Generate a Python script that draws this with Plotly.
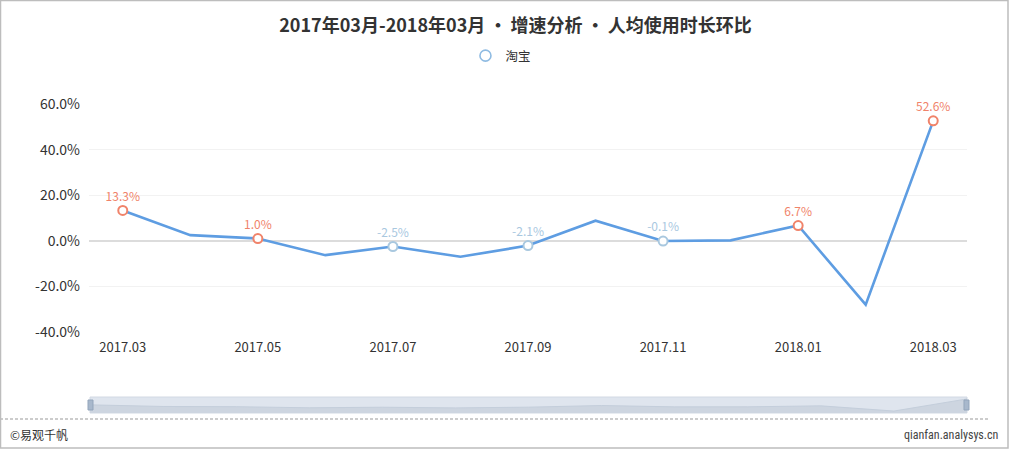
import plotly.graph_objects as go

# ---- data ----
months = ["2017.03", "2017.04", "2017.05", "2017.06", "2017.07", "2017.08", "2017.09",
          "2017.10", "2017.11", "2017.12", "2018.01", "2018.02", "2018.03"]
values = [13.3, 2.5, 1.0, -6.3, -2.5, -7.0, -2.1, 8.8, -0.1, 0.2, 6.7, -28.0, 52.6]
series_name = "淘宝"
title_text = "2017年03月-2018年03月\u2009•\u2009增速分析\u2009•\u2009人均使用时长环比"
tick_months = ["2017.03", "2017.05", "2017.07", "2017.09", "2017.11", "2018.01", "2018.03"]
y_ticks = [-40, -20, 0, 20, 40, 60]

# ---- style ----
W, H = 1010, 450
ML, MR, MT, MB = 89, 43, 104, 37
PW, PH = W - ML - MR, H - MT - MB
LINE = "#5e9de2"
POS = "#f0836a"
NEG = "#a9c8df"
FONT = "Noto Sans CJK SC"

def px_x(px):
    return (px - ML) / PW

def px_y(py):
    return (H - MB - py) / PH

def clamp(v):
    return max(0.0, min(1.0, v))

main_bottom = px_y(332)
slider_top = px_y(397)

fig = go.Figure()

# main line
fig.add_trace(go.Scatter(
    x=months, y=values, mode="lines", line=dict(color=LINE, width=2.6),
    showlegend=False, hoverinfo="skip", xaxis="x", yaxis="y"))

# labelled markers on every other month
mk_x = months[::2]
mk_y = values[::2]
mk_c = [POS if v >= 0 else NEG for v in mk_y]
fig.add_trace(go.Scatter(
    x=mk_x, y=mk_y, mode="markers+text", cliponaxis=False,
    marker=dict(symbol="circle", size=9, color="white", line=dict(color=mk_c, width=2)),
    text=[f"{v:.1f}%" for v in mk_y], textposition="top center",
    textfont=dict(size=12, color=mk_c, family=FONT),
    showlegend=False, hoverinfo="skip", xaxis="x", yaxis="y"))

# legend entry
fig.add_trace(go.Scatter(
    x=[None], y=[None], mode="markers", name=series_name,
    marker=dict(symbol="circle-open", size=11, color="#8fbbe2", line=dict(width=1.6)),
    xaxis="x", yaxis="y"))

# slider data shadow
s_min = min(values) - 13
fig.add_trace(go.Scatter(
    x=months, y=[s_min] * len(months), mode="lines", line=dict(width=0),
    showlegend=False, hoverinfo="skip", xaxis="x2", yaxis="y2"))
fig.add_trace(go.Scatter(
    x=months, y=values, mode="lines", line=dict(color="#c4cedb", width=1),
    fill="tonexty", fillcolor="#cdd5e0",
    showlegend=False, hoverinfo="skip", xaxis="x2", yaxis="y2"))

fig.update_layout(
    width=W, height=H,
    margin=dict(l=ML, r=MR, t=MT, b=MB),
    paper_bgcolor="white", plot_bgcolor="rgba(0,0,0,0)",
    font=dict(family=FONT, color="#333"),
    title=dict(text=f"<b>{title_text}</b>", x=515.5 / W, xref="container", xanchor="center",
               y=1 - 26 / H, yref="container", yanchor="middle",
               font=dict(size=18, color="#333", family=FONT)),
    legend=dict(orientation="h", x=0.496, xref="container", xanchor="center",
                y=1 - 56 / H, yref="container", yanchor="middle",
                font=dict(size=12.5, color="#333", family=FONT),
                itemwidth=30, bgcolor="rgba(0,0,0,0)"),
    xaxis=dict(type="category", categoryorder="array", categoryarray=months,
               range=[-0.5, len(months) - 0.5], tickvals=tick_months, ticktext=tick_months,
               showgrid=False, zeroline=False, showline=False, ticks="",
               tickfont=dict(size=13, color="#333"), ticklabelstandoff=6,
               domain=[0, 1], anchor="y"),
    yaxis=dict(range=[-40, 60], tickvals=y_ticks, ticktext=[f"{v:.1f}%" for v in y_ticks],
               showgrid=True, gridcolor="#f2f2f2", gridwidth=1,
               zeroline=True, zerolinecolor="#dcdcdc", zerolinewidth=1.5,
               showline=False, ticks="", tickfont=dict(size=14, color="#333"),
               ticklabelstandoff=8, domain=[main_bottom, 1], anchor="x"),
    xaxis2=dict(type="category", categoryorder="array", categoryarray=months,
                range=[0, len(months) - 1], showticklabels=False, showgrid=False,
                zeroline=False, showline=False, ticks="",
                domain=[clamp(px_x(90)), clamp(px_x(967))], anchor="y2"),
    yaxis2=dict(range=[s_min, max(values) + 13], showticklabels=False, showgrid=False,
                zeroline=False, showline=False, ticks="", domain=[0, slider_top],
                anchor="x2"),
    shapes=[
        dict(type="rect", xref="paper", yref="paper", x0=px_x(90), x1=px_x(967),
             y0=0, y1=slider_top, fillcolor="#dfe5ee", line=dict(color="#d2d9e3", width=1),
             layer="below"),
        dict(type="rect", xref="paper", yref="paper", x0=px_x(88), x1=px_x(93),
             y0=px_y(410), y1=px_y(400), fillcolor="#a8b8cc", line=dict(color="#93a5bb", width=1)),
        dict(type="rect", xref="paper", yref="paper", x0=px_x(964), x1=px_x(969),
             y0=px_y(410), y1=px_y(400), fillcolor="#a8b8cc", line=dict(color="#93a5bb", width=1)),
        dict(type="line", xref="paper", yref="paper", x0=px_x(0), x1=px_x(990),
             y0=px_y(419), y1=px_y(419), line=dict(color="#999999", width=1, dash="3px,2px")),
        dict(type="rect", xref="paper", yref="paper", x0=px_x(0.5), x1=px_x(1008),
             y0=px_y(448), y1=px_y(0.5), line=dict(color="#bdbdbd", width=1.5),
             fillcolor="rgba(0,0,0,0)"),
    ],
    annotations=[
        dict(text="©易观千帆", xref="paper", yref="paper", x=px_x(8), y=px_y(434),
             xanchor="left", yanchor="middle", showarrow=False,
             font=dict(size=12, color="#333", family=FONT)),
        dict(text="qianfan.analysys.cn", xref="paper", yref="paper", x=px_x(1001), y=px_y(435),
             xanchor="right", yanchor="middle", showarrow=False,
             font=dict(size=12, color="#444", family="Liberation Sans Narrow, Roboto Condensed, Liberation Sans")),
    ],
)

fig.write_html("out.html", config={"displayModeBar": False},
               post_script="document.body.style.margin='0';document.body.style.overflow='hidden';")
